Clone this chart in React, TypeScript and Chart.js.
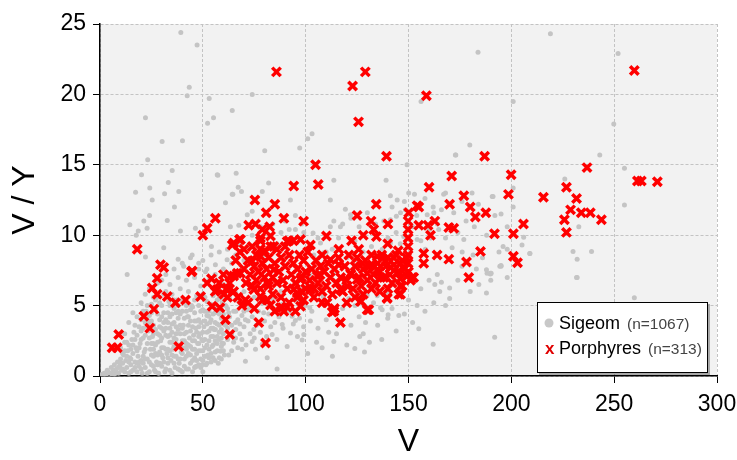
import { useEffect, useRef } from "react";
import { Chart, registerables } from "chart.js";

Chart.register(...registerables);

type P = [number, number];

const xTicks = [0, 50, 100, 150, 200, 250, 300];
const yTicks = [0, 5, 10, 15, 20, 25];
const xTitle = "V";
const yTitle = "V / Y";
const sigeomLabel = "Sigeom";
const sigeomCount = "(n=1067)";
const porphyreLabel = "Porphyres";
const porphyreCount = "(n=313)";

// Sigeom (grey dots)
const sigeomCorner: P[] = [
  [1,0.1],[2,0.2],[3,0.1],[3.5,0.4],[4,0.3],[5,0.2],[5.5,0.6],[6,0.1],[6.5,0.4],[7,0.8],[7.5,0.3],[8,0.5],[8.5,1.0],[9,0.2],[9.5,0.7],[10,1.2],[10.5,0.4],[11,0.9],[11.5,1.5],[12,0.3],[12,2.4],[12.5,1.1],[13,0.6],[13.5,1.8],[14,0.2],[14,2.2],[14.5,1.3],[15,0.8],[15.5,2.6],[16,0.4],[16,1.6],[16.5,3.1],[17,1.0],[17.5,2.0],[18,0.3],[18,2.9],[18.5,1.4],[19,0.7],[19,3.5],[19.5,2.3],[20,1.1],[20,4.0],
  [11,0.5],[13,1.4],[15,0.3],[15,1.9],[17,0.6],[17,2.6],[18,1.8],[19,1.0],[20,2.6],[21,0.9],[21,3.4],[22,1.9],[23,0.2],[23,4.0],[24,2.7],[25,1.5],[25,3.9],[26,0.7],[26,2.3],[27,3.3],[27,0.3],[28,1.5],[28,4.4],[29,2.9],[29,0.9],[30,2.0],[30,4.2],
  [10,2.0],[12,3.0],[14,3.8],[16,4.5],[18,4.2],[20,5.2],[22,5.8],[24,6.2],[26,5.6],[28,6.6],[30,6.8],
];

const sigeomDense: P[] = [
  [7,0.1],[9,0.6],[10,0.9],[11,1.6],[12,1.8],[13,2.4],[14,1.0],[15,1.2],[16,2.2],[17,3.6],[18,0.9],[19,2.0],[20,3.2],[20,0.5],[21,1.4],[21,4.6],[22,2.9],[22,1.2],[23,3.5],[23,5.0],[24,1.0],[24,3.8],[25,2.3],[25,4.5],[26,3.0],[26,1.9],[27,1.6],[27,5.4],[28,2.4],[28,0.8],[29,3.5],[29,5.2],[30,1.5],[30,2.7],[31,3.8],[31,5.8],[32,1.9],[32,3.4],[33,4.5],[33,1.3],[34,2.9],[34,1.8],[35,2.4],[35,3.7],[36,1.4],[36,5.4],[37,2.0],[37,3.0],[38,0.5],[38,4.6],[39,1.2],[39,3.6],[40,2.0],[40,5.4],[41,0.7],[41,3.0],[42,4.6],[42,1.9],[43,2.2],[43,4.2],[44,1.5],[44,3.2],[45,2.5],[45,4.9],[46,1.9],[46,3.9],[47,1.1],[47,3.1],[48,2.3],[48,3.5],[49,1.2],[49,4.6],[50,1.8],[50,3.1],[51,2.6],[51,4.6],[52,0.9],[52,3.7],[53,1.9],[53,3.2],[54,1.6],[54,3.4],[55,2.8],[55,4.9],[56,1.1],[56,3.8],[57,2.3],[57,5.4],[58,1.3],[58,3.1],[59,2.7],[59,4.7],[60,1.8],[60,3.7],[62,4.8],[64,3.6],[66,4.6],[68,3.7],[70,4.6],[73,4.9],
];

const sigeomCloud: P[] = [
  [20.5,0.2],[21,2.7],[21.5,1.7],[22,0.6],[22,3.8],[22.5,4.6],[23,1.2],[23,2.3],[23.5,3.2],[24,0.3],[24,4.3],[24.5,1.9],[25,0.8],[25,5.1],[25.5,2.8],[26,1.4],[26,3.6],[26.5,0.4],[27,2.2],[27,4.7],[27.5,1.0],[28,3.0],[28,5.6],[28.5,0.2],[29,1.7],[29,4.0],[29.5,2.5],[30,0.7],[30,3.4],[30,5.0],[30.5,1.3],[31,2.0],[31,4.5],[31.5,0.3],[32,2.9],[32,6.0],[32.5,1.6],[33,3.8],[33,0.9],[33.5,5.3],[34,2.4],[34,4.2],[34.5,1.1],[35,0.2],[35,3.1],[35,5.8],[35.5,1.9],[36,2.7],[36,4.8],[36.5,0.6],[37,3.5],[37,1.4],[37.5,5.4],[38,2.2],[38,4.1],[38.5,0.9],[39,3.0],[39,6.2],[39.5,1.7],[40,0.3],[40,2.5],[40,4.6],
  [31,1.0],[31,3.2],[32,0.5],[32,4.0],[33,1.9],[33,2.8],[34,0.4],[34,3.4],[34,5.0],[35,1.5],[35,4.4],[36,0.9],[36,2.1],[36,3.8],[37,2.6],[37,4.5],[38,1.2],[38,3.3],[38,5.0],[39,0.4],[39,2.2],[39,4.4],[40,1.6],[40,3.4],
  [40.5,3.6],[41,1.2],[41,5.3],[41.5,2.0],[42,0.5],[42,3.1],[42.5,4.2],[43,1.6],[43,6.0],[43.5,2.7],[44,0.9],[44,3.9],[44.5,5.0],[45,1.9],[45,0.3],[45.5,2.9],[46,4.5],[46,1.3],[46.5,3.4],[47,0.7],[47,5.7],[47.5,2.3],[48,4.0],[48,1.8],[48.5,3.0],[49,0.6],[49,6.4],[49.5,2.6],[50,1.1],[50,4.7],[50.5,3.5],[51,2.0],[51,5.6],[51.5,0.8],[52,3.1],[52,4.3],[52.5,1.5],[53,2.5],[53,6.8],[53.5,3.8],[54,1.0],[54,5.1],[55,2.2],[55,4.4],[55.5,3.3],[56,1.7],[56,6.0],[57,2.8],[57,4.9],[57.5,0.9],[58,3.6],[58,5.5],[59,2.1],[59,4.1],[60,3.0],[60,6.5],[60.5,1.5],
  [41,2.5],[41,4.1],[42,1.4],[42,2.3],[42,5.0],[43,0.5],[43,3.6],[44,2.1],[44,4.7],[45,1.1],[45,3.5],[46,0.6],[46,2.5],[46,5.4],[47,1.6],[47,3.9],[48,0.8],[48,2.8],[48,5.0],[49,1.8],[49,3.8],[50,0.3],[50,2.5],[50,5.8],[51,1.4],[51,3.9],[52,2.2],[52,5.3],[53,1.3],[53,4.6],[54,2.8],[54,4.0],[55,1.3],[55,3.4],[55,5.7],[56,2.5],[56,4.5],[57,1.8],[57,3.7],[58,2.6],[58,4.4],[59,1.2],[59,3.3],[59,5.6],[60,2.3],[60,4.4],
  [32,7.2],[34,6.5],[36,7.6],[38,7.0],[40,8.0],[42,6.8],[44,8.4],[46,7.0],[48,7.6],[50,8.2],[52,7.6],[54,8.6],[56,7.2],[58,8.8],[60,7.6],
];

const sigeomMid: P[] = [
  [61,3.6],[61,5.0],[62,2.6],[62,3.4],[63,4.2],[63,5.5],[64,3.0],[64,1.8],[65,4.6],[65,2.4],[66,3.3],[66,5.9],[67,2.0],[67,4.0],[68,3.0],[68,5.2],[69,2.6],[69,4.3],[70,3.5],[70,6.0],[71,2.2],[72,3.9],[72,5.1],[73,3.0],[74,4.2],[75,2.7],[75,5.6],[76,3.6],[77,4.6],[78,3.1],[79,5.2],[80,3.9],[81,2.8],[82,4.4],[83,3.5],[84,5.5],[85,3.8],[86,2.6],[87,4.2],[88,6.0],[89,3.4],[90,5.0],[91,2.1],[92,4.6],[93,6.4],[94,3.7],[95,5.4],[96,2.8],[97,4.1],[98,6.2],[99,3.5],[100,5.0],
  [52.9,4.25],[56.1,3.3],[59.4,2.35],[65.9,2.7],[69.1,1.9],[70.7,1.05],[86.1,0.5],[81.3,1.3],[74,2.45],[74.8,3.3],[83.7,2.95],[88.6,3.65],[92.6,3.05],[70.7,4.0],[65.9,3.8],[62.6,4.5],[57.8,4.7],[71.6,4.7],[79.6,4.5],[85.3,4.6],[93.4,4.25],[88.6,5.1],[65.9,5.4],[59.4,5.2],[54.5,2.1],[51.3,1.4],[49.7,0.8],[46.4,0.65],[62.6,1.5],[58.6,1.75],[75.6,1.9],[78.9,2.25],
  [62,9.0],[64,8.0],[66,8.6],[68,9.4],[70,8.2],[72,9.2],[74,10.0],[76,9.4],[78,10.6],[80,8.6],[84,10.8],[86,9.4],[88,10.2],[90,11.0],[92,10.4],[95,11.4],[98,10.8],
  [102,7.2],[104,8.6],[106,9.8],[108,7.8],[110,8.8],[112,10.6],[114,7.4],[116,9.8],[118,10.8],[120,8.4],[122,11.2],[124,9.6],[126,10.6],[128,8.8],[130,11.6],[132,9.2],[134,10.8],[136,8.6],[138,11.0],[140,9.8],[142,12.0],[144,10.2],[146,9.4],[148,12.4],[152,10.6],[154,11.4],[156,9.6],[158,12.6],[160,10.4],[162,12.0],[164,10.8],[166,11.8],[168,13.0],[172,11.6],[174,10.2],[176,12.4],[178,11.0],[182,10.6],[184,12.2],[188,10.0],[192,11.4],[196,9.2],[198,10.6],
  [101,1.6],[103,4.6],[106,3.4],[108,2.0],[110,4.0],[113,1.4],[115,3.0],[118,4.8],[120,2.2],[122,3.6],[124,5.0],[126,4.2],[128,3.0],[131,2.4],[133,5.2],[135,3.6],[137,2.6],[142,4.8],[144,3.2],[148,4.4],[150,5.4],[152,3.8],[156,6.2],[158,4.6],[160,6.8],[164,7.2],[168,5.0],[174,6.8],[176,7.8],[180,6.0],[183,7.6],[186,8.4],[190,6.8],[194,8.8],[198,7.0],
];

const sigeomScatter: P[] = [
  [129.1,3.8],[126.3,2.8],[128.6,1.7],[123.9,1.95],[113.7,2.45],[111.2,3.1],[105.3,2.4],[98.3,2.55],[99.1,2.95],[95,3.95],[102.3,3.9],[140.1,4.35],[136.4,4.85],[139.6,5.9],[134.8,5.7],[129.9,5.75],[121,5.5],[125.8,5.85],[118.5,6.5],[130.7,6.4],[133.9,6.7],[142.8,6.7],[108.5,5.65],[102,4.85],[97.5,5.4],
  [99.1,10.2],[103.6,10.15],[107.2,9.45],[108.8,8.75],[112.9,9.0],[124.2,8.25],[137.2,9.0],[141.2,9.45],[147.7,9.9],[154.2,9.7],[160.7,9.8],[158.2,9.0],
  [113.7,13.9],[139.1,13.9],[112,12.5],[141.2,12.8],[144.5,12.5],[150.1,13.0],[152.9,12.9],[167.1,12.9],[180.9,13.0],[190.7,12.75],[119.3,11.85],[121.8,11.45],[116.9,10.6],[113.7,11.0],[141.2,11.1],[144.1,11.35],[146.1,11.6],[148.5,11.8],[159.1,11.45],[162.3,11.6],[164.7,10.4],[168,9.8],[176.9,9.7],[171.2,9.1],[176.1,8.8],[181.4,8.6],[194.4,7.8],[188.2,7.3],[189.8,7.25],[162.8,6.5],
  [166,6.65],[165.2,6.0],[170,6.25],[170,5.5],[162.3,5.2],[184.2,6.5],[187.9,5.9],[187.9,7.55],[190.2,7.3],[195,7.85],[154.2,5.0],[155,3.35],[162,2.25],[191.9,2.75],[139.9,4.1],[145.3,4.3],[137.2,4.7],[209,8.7],[231.7,7.0],
  [191.1,12.75],[195,11.5],[200.9,13.35],[200.9,12.0],[232.8,10.6],[206,9.85],[205.2,9.3],[198,9.0],[209,8.7],[195,7.8],[189.8,7.3],[230,8.85],[232,8.3],[239,8.85],[232,7.0],[259.8,5.55],[226,14.0],[255,12.15],[255,14.75],[243,15.7],
];

const sigeomOutliers: P[] = [
  [39.3,24.4],[47.2,23.5],[43.4,20.5],[42.4,19.9],[22.1,18.35],[30.2,16.65],[40.1,16.7],[23.2,15.35],[53.1,19.7],[55.2,18.35],[52.3,17.95],[64.3,18.85],[20.2,14.3],[35.1,14.6],[33.2,13.75],[24.2,13.35],[17.3,13.05],[31.4,12.95],[38.3,13.1],[57.3,14.25],[66.2,14.4],[67.2,13.4],[64.6,12.9],
  [74,20.0],[80.1,16.0],[97.1,16.2],[103.1,17.2],[101,16.85],[156.1,19.5],[183.8,23.0],[179.8,16.4],[173,15.7],[172.8,15.7],[149.3,15.0],
  [219,24.3],[251.9,22.9],[200.9,19.5],[249.8,17.9],
  [25.4,12.5],[36.2,12.0],[24.1,11.4],[21.3,11.0],[14.5,10.75],[32.7,11.05],[22.9,10.5],[18.6,10.3],[39.1,10.3],[17.6,10.0],[31,9.1],[22.1,8.45],[13.2,7.2],[38,8.3],[40.7,7.8],[46.4,10.5],[54.2,9.2],[44.8,8.6],[48,8.0],[51.3,7.4],[56.1,7.9],[61.8,8.25],[64.3,12.9],[61,12.3],[57,14.3],[63.4,10.6],[68.8,13.1],[82,13.7],[92.6,12.5],[78.9,13.1],[74,11.7],[67.5,10.7],[71.6,11.45],[95,10.4],[97,9.7],
];

// Porphyres (red crosses)
const porphyreOutliers: P[] = [
  [85.8,21.6],[122.8,20.6],[129,21.6],[125.7,18.05],[158.7,19.9],[259.8,21.7],[139.3,15.6],[236.8,14.8],[261.3,13.85],[263.2,13.85],[271,13.8],[104.8,15.0],[106.1,13.6],[94.2,13.5],[171,14.2],[187,15.6],[160,13.4],
];

const porphyreRight: P[] = [
  [199.9,14.3],[198.6,12.9],[215.6,12.7],[226.8,13.4],[231.7,12.6],[228.8,11.8],[225.8,11.1],[234,11.6],[238.4,11.6],[243.8,11.1],[226.8,10.2],[201,10.1],[205.9,10.8],[191.8,10.1],[201,8.5],[203,8.05],
  [176.9,12.8],[134.3,12.2],[155,12.0],[170,12.2],[180,12],[182.5,11.3],[187.6,11.6],[125,11.4],[99,11.0],[131.8,11.0],[140,10.8],
  [155,10.7],[159.5,10.7],[162.8,11.0],[160.7,10.0],[169.6,10.55],[172,10.5],[133.1,10.4],[134.4,9.9],[128,10.0],[110.1,9.95],[122.3,9.6],[116.1,9.0],[125.8,9.0],[139.9,9.4],[157.4,8.7],[163.9,8.6],[169.6,8.3],[157.4,8.0],[185,8.85],[178.2,8.1],[179.3,7.0],
  [151.8,7.0],[146.1,6.4],[145.3,5.8],[139.6,5.5],[127,5.3],[130.7,4.7],[116.9,3.8],[112.9,4.55],[110.4,5.2],[154.2,12.1],[150.1,11.6],
];

const porphyreColumn: P[] = [
  [149.8,11.0],[149.8,10.4],[149.8,9.8],[149.8,9.2],[149.8,8.6],[149.8,8.0],
];

const porphyreLeft: P[] = [
  [75.3,12.5],[85,12.2],[80.8,11.6],[89.4,11.2],[56.1,11.2],[52.1,10.5],[50,10.0],[72.3,10.7],[75.6,10.8],[67.8,9.7],[64.3,9.3],[78,9.8],[82.9,9.95],[91.8,9.6],
  [18.1,9.0],[29.4,7.9],[31,7.7],[44.5,7.4],[27.8,6.95],[54.2,6.9],[25.4,6.25],[27.8,5.8],[32.7,5.65],[36.7,5.2],[41.6,5.4],[48.9,5.65],[52.1,6.6],[26.2,4.75],[21.3,4.25],[24.2,3.4],[9.1,2.95],[5.9,2.0],[8.4,2.0],[38.3,2.1],
  [54.5,4.95],[58.3,4.85],[61,4.0],[63.1,2.95],[77.2,3.8],[80.5,2.35],[57,6.15],[61.8,6.25],[65,7.1],[68.3,7.3],[70.7,5.4],[74,8.15],[78,8.5],[84.5,7.55],[81.3,6.6],[78,5.65],[87.7,4.85],[94.2,6.15],[97.5,6.85],[44.8,7.45],
];

const porphyreCore: P[] = [
  [78.9,10.4],[82.5,10.6],[65,9.45],[68.3,9.7],[91,9.55],[97.5,9.7],[102.3,9.3],[84.5,9.2],[78,9.0],
  [63.4,7.1],[66.7,7.3],[61.8,6.1],[60.2,5.8],[74.8,6.15],[81.3,5.4],[82.9,5.05],[88.6,4.85],[89.4,4.6],[97.5,4.95],[102.3,6.15],[95.9,5.9],
  [107.2,7.8],[112,8.25],[116.1,7.9],[121.8,7.3],[105.6,7.1],[116.9,6.15],[120.2,6.4],[125,6.85],[127.5,8.0],[129.9,7.3],[134.8,7.55],[138.8,8.15],[142.8,8.4],[146.1,8.0],[134.8,8.5],[132.3,7.9],[141.2,7.7],[144.5,7.3],[136.4,7.0],[149.3,7.1],[152.5,7.0],[146.9,6.4],[146.1,5.8],[139.6,5.55],[126.6,5.3],[129.9,4.7],[113.7,4.6],
  [66,8.2],[68,8.8],[70,7.6],[70,9.0],[71,6.6],[72,8.2],[73,7.2],[74,9.2],[74,6.4],[75,7.8],[76,8.6],[76,6.8],[77,7.4],[78,9.6],[78,6.2],[79,8.0],[80,7.0],[80,8.9],[81,7.6],[82,6.4],[82,8.4],[83,9.2],[84,7.0],[84,5.8],[85,8.0],[86,6.6],[86,9.0],[87,7.4],[88,8.4],[88,5.6],[89,6.8],[90,7.8],[90,9.2],[91,6.2],[92,8.6],[92,5.2],[93,7.2],[94,8.0],[94,9.6],[95,6.6],[96,7.6],[96,5.6],[97,8.6],[98,7.0],[98,6.0],[99,8.2],[100,7.4],[100,6.2],
  [101,8.8],[102,6.8],[103,7.6],[104,5.6],[105,8.2],[106,6.6],[107,7.2],[108,6.0],[108,8.6],[109,7.4],[110,6.4],[111,8.0],[112,7.0],[113,5.8],[114,7.6],[115,6.6],[116,8.4],[117,7.0],[118,6.0],[119,7.8],[120,6.8],[121,8.6],[122,7.2],[123,6.2],[124,7.8],[125,8.4],[126,7.0],[127,6.4],[128,7.6],[129,8.2],[130,6.8],[131,7.8],[132,8.6],[133,7.2],[134,6.6],[135,8.0],[136,7.4],[137,8.6],[138,7.0],[139,7.8],[140,8.4],[141,7.2],[142,6.6],[143,7.9],[144,8.6],[145,7.4],[146,6.9],[147,8.2],[148,7.6],[149,8.4],[150,7.4],[151,6.8],[145,8.9],[140,6.2],[136,6.0],[132,6.2],[128,5.8],[124,5.6],[120,5.2],[114,4.8],[108,5.2],[104,6.2],
  [63,6.6],[60,7.2],[58,6.6],[56,6.0],[62,5.6],[65,6.0],[67,5.6],[69,5.0],[72,5.2],[75,4.8],[79,5.4],[85,4.6],[91,4.9],[95,4.6],[99,5.4],
];

const sigeomPoints: P[] = [...sigeomCorner, ...sigeomDense, ...sigeomCloud, ...sigeomMid, ...sigeomScatter, ...sigeomOutliers];
const porphyrePoints: P[] = [...porphyreOutliers, ...porphyreRight, ...porphyreColumn, ...porphyreLeft, ...porphyreCore];

const FONT = "'Liberation Sans', Arial, sans-serif";

const backgroundPlugin = {
  id: "plotBackground",
  beforeDraw(chart: any) {
    const { ctx, chartArea } = chart;
    ctx.save();
    ctx.fillStyle = "#f2f2f2";
    ctx.fillRect(chartArea.left, chartArea.top, chartArea.right - chartArea.left, chartArea.bottom - chartArea.top);
    ctx.restore();
  },
};

const legendPlugin = {
  id: "customLegend",
  afterDraw(chart: any) {
    const { ctx } = chart;
    ctx.save();
    ctx.fillStyle = "rgba(0,0,0,0.3)";
    ctx.fillRect(539, 304, 171, 71);
    ctx.fillStyle = "#ffffff";
    ctx.fillRect(537, 302, 171, 71);
    ctx.strokeStyle = "#000";
    ctx.lineWidth = 1;
    ctx.strokeRect(537.5, 302.5, 170, 70);

    ctx.fillStyle = "#c8c8c8";
    ctx.beginPath();
    ctx.arc(549, 323, 4.5, 0, Math.PI * 2);
    ctx.fill();

    ctx.textBaseline = "alphabetic";
    ctx.textAlign = "left";
    ctx.fillStyle = "#000";
    ctx.font = `18px ${FONT}`;
    ctx.fillText(sigeomLabel, 559, 329);
    let w = ctx.measureText(sigeomLabel + " ").width;
    ctx.fillStyle = "#444";
    ctx.font = `15.5px ${FONT}`;
    ctx.fillText(sigeomCount, 559 + w + 2, 329);

    ctx.fillStyle = "#e00000";
    ctx.font = `bold 17px ${FONT}`;
    ctx.fillText("x", 545, 354);

    ctx.fillStyle = "#000";
    ctx.font = `18px ${FONT}`;
    ctx.fillText(porphyreLabel, 559, 354);
    w = ctx.measureText(porphyreLabel + " ").width;
    ctx.fillStyle = "#444";
    ctx.font = `15.5px ${FONT}`;
    ctx.fillText(porphyreCount, 559 + w + 2, 354);
    ctx.restore();
  },
};

export default function App() {
  const canvasRef = useRef<HTMLCanvasElement | null>(null);

  useEffect(() => {
    document.body.style.margin = "0";
    const canvas = canvasRef.current;
    if (!canvas) return;
    const chart = new Chart(canvas, {
      type: "scatter",
      data: {
        datasets: [
          {
            label: porphyreLabel,
            data: porphyrePoints.map(([x, y]) => ({ x, y })),
            pointStyle: "crossRot",
            pointRadius: 6,
            borderWidth: 3.5,
            borderColor: "#ff0000",
            backgroundColor: "#ff0000",
          },
          {
            label: sigeomLabel,
            data: sigeomPoints.map(([x, y]) => ({ x, y })),
            pointStyle: "circle",
            pointRadius: 2.5,
            borderWidth: 0,
            backgroundColor: "#c4c4c4",
            borderColor: "#c4c4c4",
          },
        ],
      },
      options: {
        animation: false,
        responsive: false,
        devicePixelRatio: 1,
        events: [],
        layout: { padding: { top: 24, right: 20, left: 0, bottom: 0 } },
        plugins: { legend: { display: false }, tooltip: { enabled: false } },
        scales: {
          x: {
            type: "linear",
            min: 0,
            max: 300,
            afterFit: (s: any) => { s.height = 84; s.paddingRight = 0; s.paddingLeft = 0; },
            afterBuildTicks: (s: any) => { s.ticks = xTicks.map((v) => ({ value: v })); },
            ticks: { font: { family: FONT, size: 23 }, color: "#000", padding: 8 },
            grid: { color: "#c3c3c3", lineWidth: 1, tickColor: "#000", tickLength: 7, tickWidth: 1 },
            border: { display: true, color: "#000", width: 1.5, dash: [3, 2] },
            title: { display: true, text: xTitle, color: "#000", font: { family: FONT, size: 32, lineHeight: 1 }, padding: { top: 0, bottom: 2 } },
          },
          y: {
            type: "linear",
            min: 0,
            max: 25,
            afterFit: (s: any) => { s.width = 100; s.paddingTop = 0; s.paddingBottom = 0; },
            afterBuildTicks: (s: any) => { s.ticks = yTicks.map((v) => ({ value: v })); },
            ticks: { font: { family: FONT, size: 23 }, color: "#000", padding: 7 },
            grid: { color: "#c3c3c3", lineWidth: 1, tickColor: "#000", tickLength: 7, tickWidth: 1 },
            border: { display: true, color: "#000", width: 1.5, dash: [3, 2] },
            title: { display: true, text: yTitle, color: "#000", font: { family: FONT, size: 32, lineHeight: 1 }, padding: { top: 9, bottom: 0 } },
          },
        },
      },
      plugins: [backgroundPlugin, legendPlugin],
    } as any);
    return () => chart.destroy();
  }, []);

  return (
    <div style={{ width: 737, height: 460, background: "#fff" }}>
      <canvas ref={canvasRef} width={737} height={460} style={{ display: "block" }} />
    </div>
  );
}
